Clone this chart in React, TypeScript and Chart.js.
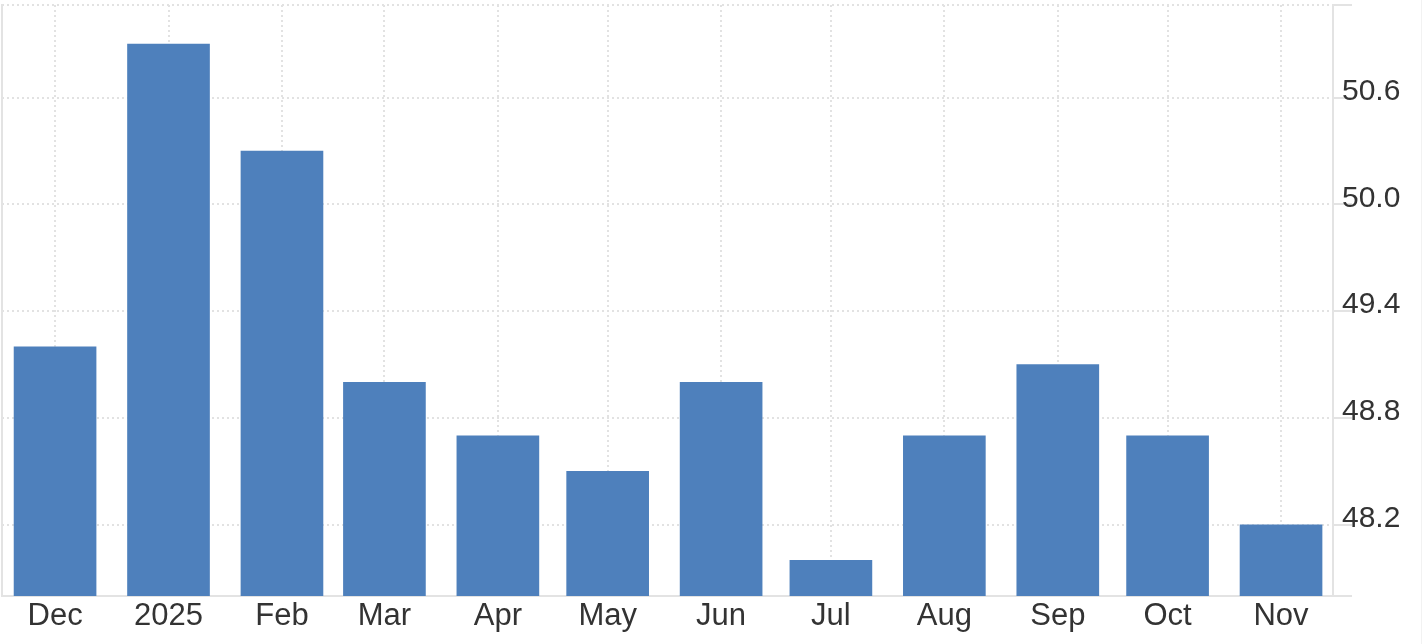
import React, { useEffect, useRef } from "react";
import { Chart, registerables } from "chart.js";

Chart.register(...registerables);

const dates = [
  "2024-12-01", "2025-01-01", "2025-02-01", "2025-03-01", "2025-04-01", "2025-05-01",
  "2025-06-01", "2025-07-01", "2025-08-01", "2025-09-01", "2025-10-01", "2025-11-01",
];
const xLabels = ["Dec", "2025", "Feb", "Mar", "Apr", "May", "Jun", "Jul", "Aug", "Sep", "Oct", "Nov"];
const values = [49.2, 50.9, 50.3, 49.0, 48.7, 48.5, 49.0, 48.0, 48.7, 49.1, 48.7, 48.2];
const yTickValues = [48.2, 48.8, 49.4, 50.0, 50.6];
const Y_MIN = 47.8;
const Y_MAX = 51.12;

const DAY = 86400000;
const days = dates.map((d) => (Date.parse(d) - Date.parse(dates[0])) / DAY);

const GRID = "#e2e2e2";
const AXIS = "#e3e3e3";
const TEXT = "#333333";
const FONT = "'Liberation Sans', Arial, Helvetica, sans-serif";

export default function App() {
  const ref = useRef<HTMLCanvasElement | null>(null);

  useEffect(() => {
    if (!ref.current) return;
    const chart = new Chart(ref.current, {
      type: "bar",
      data: {
        datasets: [
          {
            data: values.map((v, i) => ({ x: days[i], y: v })),
            backgroundColor: "#4e80bc",
            barThickness: 82,
            borderWidth: 0,
          },
        ],
      },
      options: {
        animation: false,
        responsive: false,
        layout: { padding: { left: 2, top: 5, right: 0, bottom: 0 } },
        plugins: { legend: { display: false }, tooltip: { enabled: false } },
        scales: {
          x: {
            type: "linear",
            offset: false,
            min: days[0] - 14.5,
            max: days[days.length - 1] + 14.2,
            afterBuildTicks: (s: any) => {
              s.ticks = days.map((v) => ({ value: v }));
            },
            afterFit: (s: any) => {
              s.height = 48;
              s.paddingLeft = 0;
              s.paddingRight = 0;
            },
            grid: {
              color: GRID,
              lineWidth: 2,
              drawTicks: false,
              offset: false,
            },
            border: { display: true, color: AXIS, width: 2, dash: [2, 3] },
            ticks: {
              autoSkip: false,
              maxRotation: 0,
              padding: 2,
              color: TEXT,
              font: { family: FONT, size: 31 },
              callback: (_v: any, i: number) => xLabels[i],
            },
          },
          y: {
            type: "linear",
            position: "right",
            min: Y_MIN,
            max: Y_MAX,
            afterBuildTicks: (s: any) => {
              s.ticks = [Y_MIN, ...yTickValues, Y_MAX].map((v) => ({ value: v }));
            },
            afterFit: (s: any) => {
              s.width = 95;
              s.paddingTop = 0;
              s.paddingBottom = 0;
            },
            grid: {
              color: GRID,
              lineWidth: 2,
              drawTicks: true,
              tickLength: 19,
              tickColor: AXIS,
              tickWidth: 2,
            },
            border: { display: true, color: AXIS, width: 2, dash: [2, 3] },
            ticks: {
              padding: -10,
              labelOffset: -6,
              color: TEXT,
              font: { family: FONT, size: 30 },
              callback: (v: any) => (yTickValues.some((t) => Math.abs(t - v) < 1e-6) ? Number(v).toFixed(1) : ""),
            },
          },
          yl: {
            type: "linear",
            position: "left",
            min: Y_MIN,
            max: Y_MAX,
            afterFit: (s: any) => {
              s.width = 0;
              s.paddingTop = 0;
              s.paddingBottom = 0;
            },
            grid: { display: false, drawTicks: false },
            border: { display: true, color: AXIS, width: 2 },
            ticks: { display: false },
          },
        },
      },
    } as any);
    return () => chart.destroy();
  }, []);

  return (
    <div style={{ position: "absolute", left: 0, top: 0, width: 1428, height: 644, background: "#fff" }}>
      <canvas ref={ref} width={1428} height={644} style={{ display: "block" }} />
      <div style={{ position: "absolute", left: 1421, top: 0, width: 1, height: 644, background: "#f2f2f2" }} />
    </div>
  );
}
